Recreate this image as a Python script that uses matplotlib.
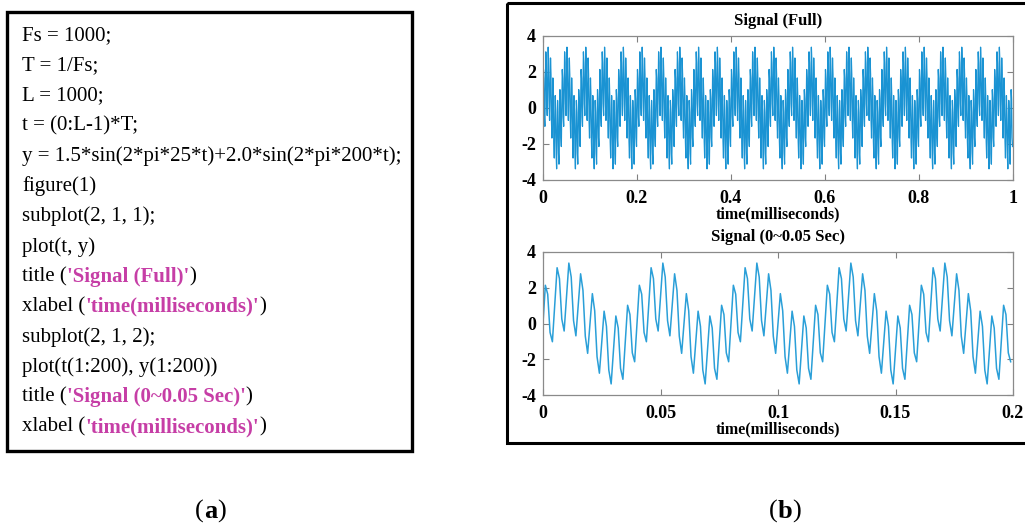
import matplotlib
matplotlib.use("Agg")
import matplotlib.pyplot as plt
from matplotlib.patches import Rectangle
import numpy as np

# one 40-sample period of the signal (repeats 25 times)
period_vals = [0.00, 2.14, 1.64, -0.50, -1.02, 1.06, 3.12, 2.51, 0.25, -0.42,
               1.50, 3.38, 2.60, 0.16, -0.69, 1.06, 2.78, 1.86, -0.71, -1.67,
               0.00, 1.67, 0.71, -1.86, -2.78, -1.06, 0.69, -0.16, -2.60, -3.38,
               -1.50, 0.42, -0.25, -2.51, -3.12, -1.06, 1.02, 0.50, -1.64, -2.14]
n_periods = 25
fs = 1000
n_zoom = 200

full_xticks = [0, 0.2, 0.4, 0.6, 0.8, 1]
full_xlabels = ["0", "0.2", "0.4", "0.6", "0.8", "1"]
zoom_xticks = [0, 0.05, 0.1, 0.15, 0.2]
zoom_xlabels = ["0", "0.05", "0.1", "0.15", "0.2"]
yticks = [-4, -2, 0, 2, 4]

STR = "#c63ea6"
code_lines = [
    [("Fs = 1000;", "k", False)],
    [("T = 1/Fs;", "k", False)],
    [("L = 1000;", "k", False)],
    [("t = (0:L-1)*T;", "k", False)],
    [("y = 1.5*sin(2*pi*25*t)+2.0*sin(2*pi*200*t);", "k", False)],
    [("figure(1)", "k", False)],
    [("subplot(2, 1, 1);", "k", False)],
    [("plot(t, y)", "k", False)],
    [("title (", "k", False), ("'Signal (Full)'", STR, True), (")", "k", False)],
    [("xlabel (", "k", False), ("'time(milliseconds)'", STR, True), (")", "k", False)],
    [("subplot(2, 1, 2);", "k", False)],
    [("plot(t(1:200), y(1:200))", "k", False)],
    [("title (", "k", False), ("'Signal (0~0.05 Sec)'", STR, True), (")", "k", False)],
    [("xlabel (", "k", False), ("'time(milliseconds)'", STR, True), (")", "k", False)],
]

y = np.tile(period_vals, n_periods)
t = np.arange(len(y)) / fs

plt.rcParams["font.family"] = ["Liberation Serif", "DejaVu Serif"]

W, H = 1025, 528
fig = plt.figure(figsize=(W / 100, H / 100), dpi=100)

# page overlay in pixel coordinates
bg = fig.add_axes([0, 0, 1, 1], zorder=0)
bg.set_xlim(0, W)
bg.set_ylim(H, 0)
bg.axis("off")

bg.add_patch(Rectangle((7, 12), 405, 439, fill=False, lw=2.4, ec="k"))
bg.add_patch(Rectangle((507, 3), 560, 440, fill=False, lw=2.2, ec="k", clip_on=False))


def chain(x, yc, segs, size):
    prev = None
    for txt, col, bold in segs:
        kw = dict(color=col, fontsize=size, fontweight="bold" if bold else "normal",
                  va="center")
        if prev is None:
            prev = bg.text(x, yc, txt, ha="left", **kw)
        else:
            prev = bg.annotate(txt, xy=(1, 0.5), xycoords=prev, ha="left", **kw)


y0, dy = 36, 30.1
for i, segs in enumerate(code_lines):
    chain(22, y0 + i * dy, segs, 15)

chain(195, 511, [("(", "k", False), ("a", "k", True), (")", "k", False)], 19)
chain(769, 511, [("(", "k", False), ("b", "k", True), (")", "k", False)], 19)


def style_axes(ax, xticks, xlabels, title):
    ax.set_ylim(-4, 4)
    ax.set_yticks(yticks)
    ax.set_yticklabels([str(v) for v in yticks])
    ax.set_xticks(xticks)
    ax.set_xticklabels(xlabels)
    ax.tick_params(direction="in", top=True, right=True, length=4, width=0.8,
                   color="#808080", labelsize=13)
    ax.tick_params(axis="x", pad=7)
    ax.tick_params(axis="y", pad=5)
    for lab in ax.get_xticklabels() + ax.get_yticklabels():
        lab.set_fontweight("bold")
    for sp in ax.spines.values():
        sp.set_color("#8a8a8a")
        sp.set_linewidth(0.9)
    ax.set_title(title, fontsize=12, fontweight="bold", pad=8)
    ax.set_xlabel("time(milliseconds)", fontsize=11.5, fontweight="bold", labelpad=0)


ax1 = fig.add_axes([543 / W, 1 - 180 / H, 470 / W, 144 / H], zorder=2)
ax1.plot(t, y, color="#1a93d3", lw=0.9)
ax1.set_xlim(0, 1)
style_axes(ax1, full_xticks, full_xlabels, "Signal (Full)")

ax2 = fig.add_axes([543 / W, 1 - 395 / H, 470 / W, 143 / H], zorder=2)
ax2.plot(t[:n_zoom], y[:n_zoom], color="#2a9fd8", lw=1.1)
ax2.set_xlim(0, 0.2)
style_axes(ax2, zoom_xticks, zoom_xlabels, "Signal (0~0.05 Sec)")

fig.savefig("out.png", dpi=100)
